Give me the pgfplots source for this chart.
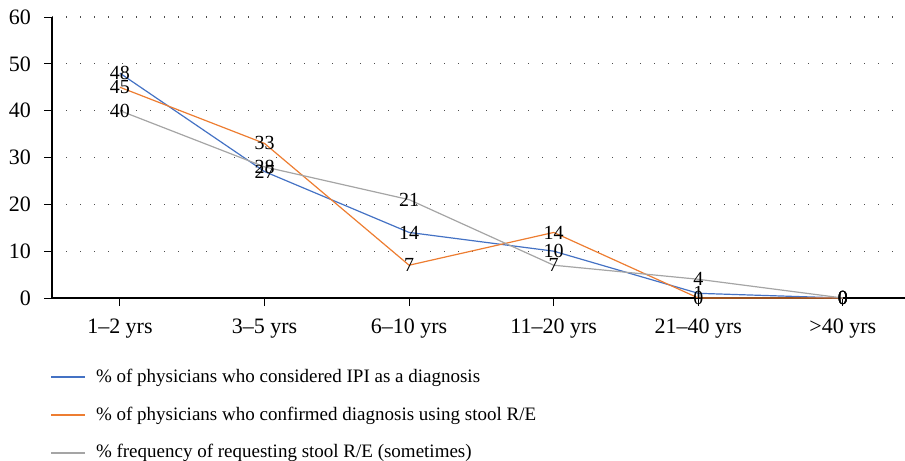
\documentclass[border=0pt]{standalone}
\usepackage{pgfplots}
\pgfplotsset{compat=1.18}
\usepackage{fontspec}
\setmainfont{Liberation Serif}
\definecolor{cblue}{HTML}{4472C4}
\definecolor{corange}{HTML}{ED7D31}
\definecolor{cgray}{HTML}{A5A5A5}
\begin{document}
\fontsize{10pt}{12pt}\selectfont
\begin{tikzpicture}
\begin{axis}[
  scale only axis,
  width=426.5pt, height=140.5pt,
  xmin=-0.47, xmax=5.43,
  ymin=0, ymax=60,
  ytick={0,10,...,60},
  xtick={0,1,2,3,4,5},
  xticklabels={1–2 yrs,3–5 yrs,6–10 yrs,11–20 yrs,21–40 yrs,>40 yrs},
  axis x line*=bottom, axis y line*=left,
  tick align=outside,
  major tick length=4pt,
  tick style={black, line width=0.5pt},
  axis line style={black, line width=0.6pt},
  ymajorgrids,
  grid style={black!70, line width=0.6pt, dash pattern=on 0.6pt off 6.4pt},
  /pgf/number format/assume math mode=true,
  ticklabel style={font=\fontsize{11pt}{12pt}\selectfont},
  xticklabel style={yshift=-3pt},
  yticklabel style={xshift=-3pt},
  every node near coord/.append style={font=\fontsize{10pt}{12pt}\selectfont, black, anchor=center},
  nodes near coords,
  legend style={at={(0,-0.222)}, anchor=north west, draw=none, fill=none,
    font=\fontsize{9.5pt}{11pt}\selectfont, row sep=6.75pt, cells={anchor=west},
    xshift=-4pt},
  legend image code/.code={\draw[#1, line width=0.8pt] (0pt,0pt) -- (17pt,0pt);},
  clip=false,
]
\addplot[cblue, line width=0.6pt] coordinates {(0,48) (1,27) (2,14) (3,10) (4,1) (5,0)};
\addlegendentry{\hspace{3pt}\% of physicians who considered IPI as a diagnosis}
\addplot[corange, line width=0.6pt] coordinates {(0,45) (1,33) (2,7) (3,14) (4,0) (5,0)};
\addlegendentry{\hspace{3pt}\% of physicians who confirmed diagnosis using stool R/E}
\addplot[cgray, line width=0.6pt] coordinates {(0,40) (1,28) (2,21) (3,7) (4,4) (5,0)};
\addlegendentry{\hspace{3pt}\% frequency of requesting stool R/E (sometimes)}
\coordinate (O) at (rel axis cs:0,0);
\coordinate (T) at (rel axis cs:1,1);
\end{axis}
\pgfresetboundingbox
\path[use as bounding box] ([xshift=-26pt,yshift=-81pt]O) rectangle ([yshift=8.5pt]T);
\end{tikzpicture}
\end{document}
